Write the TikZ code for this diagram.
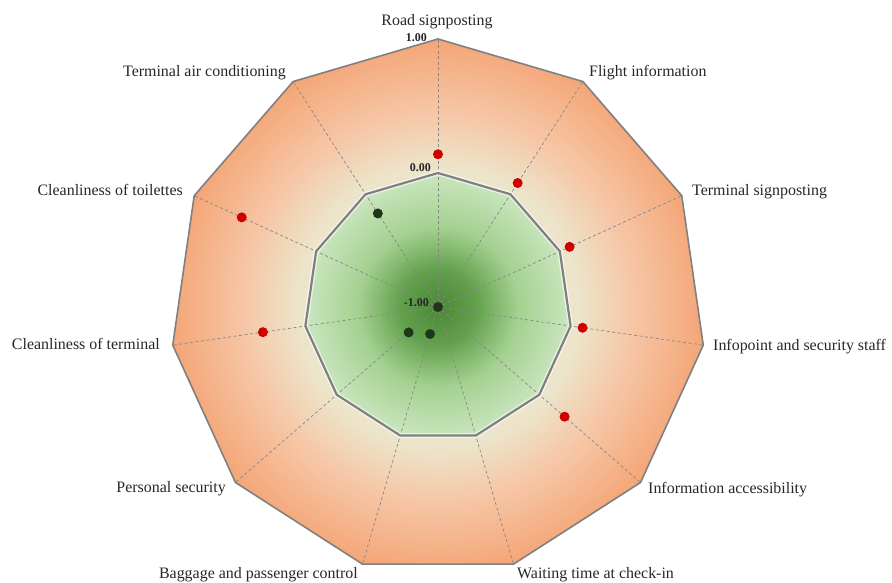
\documentclass[tikz,border=0pt]{standalone}
\usepackage{fontspec}
\setmainfont{Liberation Serif}
\usepackage{xcolor}

\definecolor{rimgray}{HTML}{808080}
\definecolor{spokegray}{HTML}{878787}
\definecolor{labelc}{HTML}{262626}
\definecolor{redpt}{HTML}{D00000}
\definecolor{darkpt}{HTML}{1F361B}
\definecolor{creamc}{HTML}{ECE5CB}
\definecolor{peachc}{HTML}{F6C7A7}
\definecolor{orangec}{HTML}{F4A576}
\definecolor{dkgreen}{HTML}{4A8737}
\definecolor{mdgreen}{HTML}{62A04C}
\definecolor{ltgreen}{HTML}{A5D191}
\definecolor{pagreen}{HTML}{CBE6C0}

\pgfdeclareradialshading{orangefill}{\pgfpoint{0bp}{0bp}}{color(0bp)=(creamc); color(13bp)=(creamc); color(18bp)=(peachc); color(25bp)=(orangec); color(50bp)=(orangec)}
\pgfdeclareradialshading{greenfill}{\pgfpoint{0bp}{0bp}}{color(0bp)=(dkgreen); color(7bp)=(mdgreen); color(15bp)=(ltgreen); color(25bp)=(pagreen); color(50bp)=(pagreen)}

\begin{document}
\begin{tikzpicture}[x=1bp,y=1bp]
  \tikzset{rim/.style = {draw=rimgray,line width=1.6bp,line join=round}}
  \tikzset{zerorim/.style = {draw=rimgray,line width=2.2bp,line join=round}}
  \tikzset{glow/.style = {draw=white,opacity=0.6,line width=5bp,line join=round}}
  \tikzset{spoke/.style = {draw=spokegray,line width=0.7bp,dash pattern=on 3bp off 2.5bp}}
  \tikzset{axislabel/.style = {font=\fontsize{16}{19}\selectfont,text=labelc,inner sep=0pt}}
  \tikzset{ticklbl/.style = {font=\fontsize{12}{14}\selectfont\bfseries,text=labelc,inner sep=0pt}}
  \tikzset{reddot/.style = {shape=circle,fill=redpt,minimum size=10bp,inner sep=0pt}}
  \tikzset{darkdot/.style = {shape=circle,fill=darkpt,minimum size=10bp,inner sep=0pt}}

  \useasboundingbox (-438,-276) rectangle (454,307);

  \coordinate (O) at (0,0);
  \foreach \k in {0,...,10} {
    \coordinate (V\k) at ({90-360/11*\k}:268);
    \coordinate (W\k) at ({90-360/11*\k}:134);
  }

  \begin{scope}
    \clip (V0) \foreach \k in {1,...,10} {-- (V\k)} -- cycle;
    \shade[shading=orangefill] (O) circle (268);
  \end{scope}
  \begin{scope}
    \clip (W0) \foreach \k in {1,...,10} {-- (W\k)} -- cycle;
    \shade[shading=greenfill] (O) circle (134);
  \end{scope}

  \foreach \k in {0,...,10}
    \draw[spoke] (O) -- (V\k);

  \draw[rim] (V0) \foreach \k in {1,...,10} {-- (V\k)} -- cycle;
  \draw[glow] (W0) \foreach \k in {1,...,10} {-- (W\k)} -- cycle;
  \draw[zerorim] (W0) \foreach \k in {1,...,10} {-- (W\k)} -- cycle;

  \foreach \k/\v/\s in {0/0.14/reddot, 1/0.10/reddot, 2/0.08/reddot, 3/0.09/reddot, 4/0.25/reddot,
    5/-1.00/darkdot, 6/-0.79/darkdot, 7/-0.71/darkdot, 8/0.32/reddot, 9/0.61/reddot, 10/-0.17/darkdot}
    \node[\s] (D\k) at ({90-360/11*\k}:{(\v+1)*134}) {};

  \node[ticklbl,anchor=base east] (T1) at (-11,265) {1.00};
  \node[ticklbl,anchor=base east] (T0) at (-7,135) {0.00};
  \node[ticklbl,anchor=base east] (Tm1) at (-9,0) {-1.00};

  \node[axislabel,anchor=base] (Lroad) at (-1,281) {Road signposting};
  \node[axislabel,anchor=base west] (Lflight) at (151,230) {Flight information};
  \node[axislabel,anchor=base west] (Ltsign) at (254,111) {Terminal signposting};
  \node[axislabel,anchor=base west] (Linfo) at (275,-44) {Infopoint and security staff};
  \node[axislabel,anchor=base west] (Lacc) at (210,-187) {Information accessibility};
  \node[axislabel,anchor=base west] (Lwait) at (79,-272) {Waiting time at check-in};
  \node[axislabel,anchor=base east] (Lbag) at (-80,-272) {Baggage and passenger control};
  \node[axislabel,anchor=base east] (Lpers) at (-212,-186) {Personal security};
  \node[axislabel,anchor=base east] (Lcterm) at (-278,-43) {Cleanliness of terminal};
  \node[axislabel,anchor=base east] (Lctoil) at (-255,111) {Cleanliness of toilettes};
  \node[axislabel,anchor=base east] (Lair) at (-152,230) {Terminal air conditioning};
\end{tikzpicture}
\end{document}
